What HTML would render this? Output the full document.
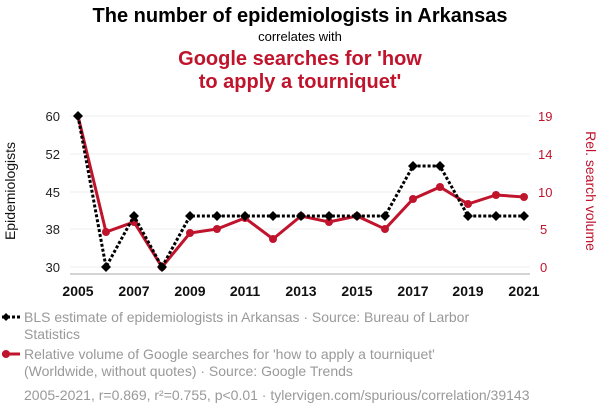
<!DOCTYPE html>
<html><head><style>
body{margin:0;width:600px;height:414px;background:#fff;font-family:"Liberation Sans",sans-serif;overflow:hidden}
</style></head><body>
<svg width="600" height="414" xmlns="http://www.w3.org/2000/svg" font-family="Liberation Sans, sans-serif">
<text x="300" y="22" text-anchor="middle" font-size="20" font-weight="bold" fill="#000">The number of epidemiologists in Arkansas</text>
<text x="300" y="41" text-anchor="middle" font-size="13" fill="#000">correlates with</text>
<text x="300" y="65" text-anchor="middle" font-size="20" font-weight="bold" fill="#c0142d">Google searches for 'how</text>
<text x="300" y="88" text-anchor="middle" font-size="20" font-weight="bold" fill="#c0142d">to apply a tourniquet'</text>
<g stroke="#eee" stroke-width="1">
<line x1="70" x2="530" y1="116" y2="116"/><line x1="70" x2="530" y1="154" y2="154"/><line x1="70" x2="530" y1="192" y2="192"/><line x1="70" x2="530" y1="229" y2="229"/><line x1="70" x2="530" y1="267" y2="267"/>
</g>
<line x1="70" x2="530" y1="274" y2="274" stroke="#aaa"/>
<g font-size="13" fill="#222" text-anchor="end">
<text x="60" y="121">60</text><text x="60" y="159">52</text><text x="60" y="197">45</text><text x="60" y="234">38</text><text x="60" y="272">30</text>
</g>
<g font-size="13" fill="#c0142d" text-anchor="start">
<text x="538" y="121">19</text><text x="538" y="159">14</text><text x="538" y="197">10</text><text x="540" y="234">5</text><text x="540" y="272">0</text>
</g>
<g font-size="14" font-weight="bold" fill="#111" text-anchor="middle">
<text x="78" y="296">2005</text><text x="134" y="296">2007</text><text x="190" y="296">2009</text><text x="245" y="296">2011</text><text x="301" y="296">2013</text><text x="357" y="296">2015</text><text x="413" y="296">2017</text><text x="468" y="296">2019</text><text x="524" y="296">2021</text>
</g>
<text transform="translate(15,191) rotate(-90)" text-anchor="middle" font-size="14" fill="#111">Epidemiologists</text>
<text transform="translate(586,191) rotate(90)" text-anchor="middle" font-size="14" fill="#c0142d">Rel. search volume</text>
<polyline fill="none" stroke="#c0142d" stroke-width="3" points="78,116 106,232 134,222 162,267 190,233 217,229 245,218 273,239 301,216 329,222 357,216 385,229 413,199 440,187 468,204 496,195 524,197"/>
<g fill="#c0142d">
<circle cx="106" cy="232" r="4"/><circle cx="134" cy="222" r="4"/><circle cx="162" cy="267" r="4"/><circle cx="190" cy="233" r="4"/><circle cx="217" cy="229" r="4"/><circle cx="245" cy="218" r="4"/><circle cx="273" cy="239" r="4"/><circle cx="301" cy="216" r="4"/><circle cx="329" cy="222" r="4"/><circle cx="357" cy="216" r="4"/><circle cx="385" cy="229" r="4"/><circle cx="413" cy="199" r="4"/><circle cx="440" cy="187" r="4"/><circle cx="468" cy="204" r="4"/><circle cx="496" cy="195" r="4"/><circle cx="524" cy="197" r="4"/>
</g>
<polyline fill="none" stroke="#000" stroke-width="3" stroke-dasharray="3,2" points="78,116 106,267 134,216 162,267 190,216 217,216 245,216 273,216 301,216 329,216 357,216 385,216 413,166 440,166 468,216 496,216 524,216"/>
<g fill="#000">
<path d="M78,111l5,5-5,5-5-5z"/><path d="M106,262l5,5-5,5-5-5z"/><path d="M134,211l5,5-5,5-5-5z"/><path d="M162,262l5,5-5,5-5-5z"/><path d="M190,211l5,5-5,5-5-5z"/><path d="M217,211l5,5-5,5-5-5z"/><path d="M245,211l5,5-5,5-5-5z"/><path d="M273,211l5,5-5,5-5-5z"/><path d="M301,211l5,5-5,5-5-5z"/><path d="M329,211l5,5-5,5-5-5z"/><path d="M357,211l5,5-5,5-5-5z"/><path d="M385,211l5,5-5,5-5-5z"/><path d="M413,161l5,5-5,5-5-5z"/><path d="M440,161l5,5-5,5-5-5z"/><path d="M468,211l5,5-5,5-5-5z"/><path d="M496,211l5,5-5,5-5-5z"/><path d="M524,211l5,5-5,5-5-5z"/>
</g>
<line x1="2" x2="20" y1="317" y2="317" stroke="#000" stroke-width="3" stroke-dasharray="3,2"/>
<path d="M6,313l4,4-4,4-4-4z" fill="#000"/>
<text x="24" y="322" font-size="14" fill="#999">BLS estimate of epidemiologists in Arkansas · Source: Bureau of Larbor</text>
<text x="24" y="339" font-size="14" fill="#999">Statistics</text>
<line x1="2" x2="20" y1="354" y2="354" stroke="#c0142d" stroke-width="3"/>
<circle cx="6" cy="354" r="4" fill="#c0142d"/>
<text x="24" y="359" font-size="14" fill="#999">Relative volume of Google searches for 'how to apply a tourniquet'</text>
<text x="24" y="376" font-size="14" fill="#999">(Worldwide, without quotes) · Source: Google Trends</text>
<text x="24" y="400" font-size="14" fill="#999">2005-2021, r=0.869, r²=0.755, p&lt;0.01 · tylervigen.com/spurious/correlation/39143</text>
</svg>
</body></html>
